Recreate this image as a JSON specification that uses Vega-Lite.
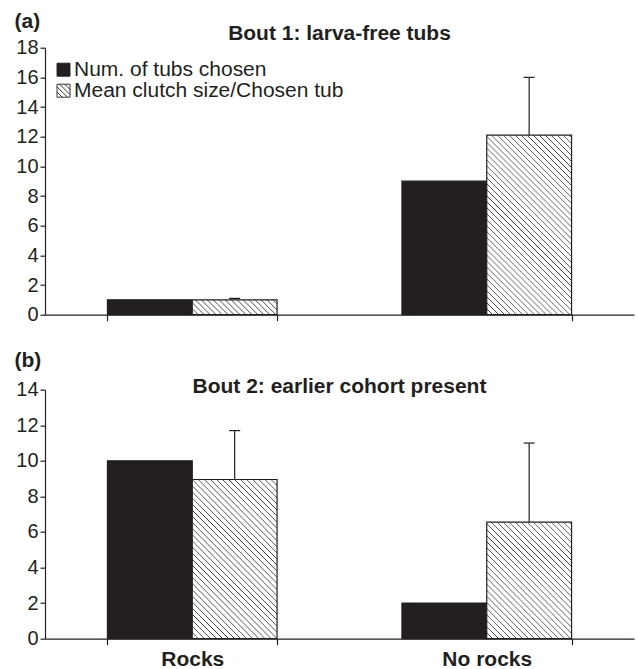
{
"$schema": "https://vega.github.io/schema/vega-lite/v6.json",
"padding": {"left": 14, "top": 9.7, "right": 4, "bottom": 0},
"config": {"view": {"stroke": null}, "font": "Liberation Sans",
  "axis": {"domainColor": "#231f20", "tickColor": "#231f20", "labelColor": "#231f20", "titleColor": "#231f20", "grid": false, "domainWidth": 1.2, "tickWidth": 1.2, "labelFont": "Liberation Sans", "titleFont": "Liberation Sans", "labelOverlap": false},
  "title": {"color": "#231f20", "font": "Liberation Sans"}},
"spacing": 25,
"datasets": {
  "bout1": [
    {"cat": "Rocks", "series": "Num. of tubs chosen", "value": 1},
    {"cat": "Rocks", "series": "Mean clutch size/Chosen tub", "value": 1, "upper": 1.1},
    {"cat": "No rocks", "series": "Num. of tubs chosen", "value": 9},
    {"cat": "No rocks", "series": "Mean clutch size/Chosen tub", "value": 12.1, "upper": 16}
  ],
  "bout2": [
    {"cat": "Rocks", "series": "Num. of tubs chosen", "value": 10},
    {"cat": "Rocks", "series": "Mean clutch size/Chosen tub", "value": 8.95, "upper": 11.7},
    {"cat": "No rocks", "series": "Num. of tubs chosen", "value": 2},
    {"cat": "No rocks", "series": "Mean clutch size/Chosen tub", "value": 6.55, "upper": 11}
  ]
},
"vconcat": [
{
  "width": 589, "height": 267,
  "data": {"name": "bout1"},
  "title": {"text": "Bout 1: larva-free tubs", "anchor": "middle", "frame": "group", "fontSize": 21, "fontWeight": "bold", "baseline": "alphabetic", "offset": -51},
  "encoding": {
    "x": {"field": "cat", "type": "nominal", "sort": ["Rocks", "No rocks"], "scale": {"domain": ["Rocks", "No rocks"], "paddingInner": 0.424, "paddingOuter": 0.212},
          "axis": {"title": null, "labels": false, "tickBand": "extent", "tickSize": 6}},
    "xOffset": {"field": "series", "type": "nominal", "scale": {"domain": ["Num. of tubs chosen", "Mean clutch size/Chosen tub"], "paddingInner": 0, "paddingOuter": 0}}
  },
  "layer": [
    {
      "mark": {"type": "bar", "stroke": "#231f20", "strokeWidth": 1.2},
      "encoding": {
        "y": {"field": "value", "type": "quantitative", "title": "(a)", "scale": {"domain": [0, 18]},
              "axis": {"values": [0, 2, 4, 6, 8, 10, 12, 14, 16, 18], "labelOverlap": false, "tickSize": 5, "labelFontSize": 20, "labelPadding": 2, "title": "(a)", "titleAngle": 0, "titleX": -31, "titleY": -37.5, "titleAlign": "left", "titleBaseline": "top", "titleFontSize": 21, "titleFontWeight": "bold"}},
        "fill": {"field": "series", "type": "nominal",
          "scale": {"domain": ["Num. of tubs chosen", "Mean clutch size/Chosen tub"], "range": ["#231f20", "#ffffff"]},
          "legend": {"orient": "none", "legendX": 8, "legendY": 11.5, "title": null, "symbolType": "M-1,-1H1V1H-1Z M0.2,-1L1,-0.2 M-0.6,-1L1,0.6 M-1,-0.6L0.6,1 M-1,0.2L-0.2,1", "symbolSize": 169, "symbolStrokeColor": "#231f20", "symbolStrokeWidth": 1, "labelFontSize": 21, "labelColor": "#231f20", "labelFont": "Liberation Sans", "labelOffset": 0, "rowPadding": -3, "padding": 0, "labelLimit": 400,
            "encode": {"symbols": {"update": {"stroke": {"value": "#231f20"}, "strokeWidth": {"value": 0.9}, "opacity": {"value": 1}}}}},
          "condition": [
            {"test": "datum.series === 'Mean clutch size/Chosen tub' && datum.cat === 'Rocks'", "value": {"gradient": "linear", "x1": 0, "y1": 1, "x2": 1.14, "y2": 0.8006, "stops": [
              {"offset": 0.051, "color": "#fff"}, {"offset": 0.06, "color": "#333"}, {"offset": 0.069, "color": "#fff"},
              {"offset": 0.111, "color": "#fff"}, {"offset": 0.12, "color": "#333"}, {"offset": 0.129, "color": "#fff"},
              {"offset": 0.171, "color": "#fff"}, {"offset": 0.18, "color": "#333"}, {"offset": 0.189, "color": "#fff"},
              {"offset": 0.231, "color": "#fff"}, {"offset": 0.24, "color": "#333"}, {"offset": 0.249, "color": "#fff"},
              {"offset": 0.291, "color": "#fff"}, {"offset": 0.3, "color": "#333"}, {"offset": 0.309, "color": "#fff"},
              {"offset": 0.351, "color": "#fff"}, {"offset": 0.36, "color": "#333"}, {"offset": 0.369, "color": "#fff"},
              {"offset": 0.411, "color": "#fff"}, {"offset": 0.42, "color": "#333"}, {"offset": 0.429, "color": "#fff"},
              {"offset": 0.471, "color": "#fff"}, {"offset": 0.48, "color": "#333"}, {"offset": 0.489, "color": "#fff"},
              {"offset": 0.531, "color": "#fff"}, {"offset": 0.54, "color": "#333"}, {"offset": 0.549, "color": "#fff"},
              {"offset": 0.591, "color": "#fff"}, {"offset": 0.6, "color": "#333"}, {"offset": 0.609, "color": "#fff"},
              {"offset": 0.651, "color": "#fff"}, {"offset": 0.66, "color": "#333"}, {"offset": 0.669, "color": "#fff"},
              {"offset": 0.711, "color": "#fff"}, {"offset": 0.72, "color": "#333"}, {"offset": 0.729, "color": "#fff"},
              {"offset": 0.771, "color": "#fff"}, {"offset": 0.78, "color": "#333"}, {"offset": 0.789, "color": "#fff"},
              {"offset": 0.831, "color": "#fff"}, {"offset": 0.84, "color": "#333"}, {"offset": 0.849, "color": "#fff"},
              {"offset": 0.891, "color": "#fff"}, {"offset": 0.9, "color": "#333"}, {"offset": 0.909, "color": "#fff"},
              {"offset": 0.951, "color": "#fff"}, {"offset": 0.96, "color": "#333"}, {"offset": 0.969, "color": "#fff"}]}},
            {"test": "datum.series === 'Mean clutch size/Chosen tub' && datum.cat === 'No rocks'", "value": {"gradient": "linear", "x1": 0, "y1": 1, "x2": 0.5687, "y2": -0.2038, "stops": [
              {"offset": 0.0195, "color": "#fff"}, {"offset": 0.0225, "color": "#333"}, {"offset": 0.0255, "color": "#fff"},
              {"offset": 0.042, "color": "#fff"}, {"offset": 0.045, "color": "#333"}, {"offset": 0.048, "color": "#fff"},
              {"offset": 0.0645, "color": "#fff"}, {"offset": 0.0675, "color": "#333"}, {"offset": 0.0705, "color": "#fff"},
              {"offset": 0.087, "color": "#fff"}, {"offset": 0.09, "color": "#333"}, {"offset": 0.093, "color": "#fff"},
              {"offset": 0.1095, "color": "#fff"}, {"offset": 0.1125, "color": "#333"}, {"offset": 0.1155, "color": "#fff"},
              {"offset": 0.132, "color": "#fff"}, {"offset": 0.135, "color": "#333"}, {"offset": 0.138, "color": "#fff"},
              {"offset": 0.1545, "color": "#fff"}, {"offset": 0.1575, "color": "#333"}, {"offset": 0.1605, "color": "#fff"},
              {"offset": 0.177, "color": "#fff"}, {"offset": 0.18, "color": "#333"}, {"offset": 0.183, "color": "#fff"},
              {"offset": 0.1995, "color": "#fff"}, {"offset": 0.2025, "color": "#333"}, {"offset": 0.2055, "color": "#fff"},
              {"offset": 0.222, "color": "#fff"}, {"offset": 0.225, "color": "#333"}, {"offset": 0.228, "color": "#fff"},
              {"offset": 0.2445, "color": "#fff"}, {"offset": 0.2475, "color": "#333"}, {"offset": 0.2505, "color": "#fff"},
              {"offset": 0.267, "color": "#fff"}, {"offset": 0.27, "color": "#333"}, {"offset": 0.273, "color": "#fff"},
              {"offset": 0.2895, "color": "#fff"}, {"offset": 0.2925, "color": "#333"}, {"offset": 0.2955, "color": "#fff"},
              {"offset": 0.312, "color": "#fff"}, {"offset": 0.315, "color": "#333"}, {"offset": 0.318, "color": "#fff"},
              {"offset": 0.3345, "color": "#fff"}, {"offset": 0.3375, "color": "#333"}, {"offset": 0.3405, "color": "#fff"},
              {"offset": 0.357, "color": "#fff"}, {"offset": 0.36, "color": "#333"}, {"offset": 0.363, "color": "#fff"},
              {"offset": 0.3795, "color": "#fff"}, {"offset": 0.3825, "color": "#333"}, {"offset": 0.3855, "color": "#fff"},
              {"offset": 0.402, "color": "#fff"}, {"offset": 0.405, "color": "#333"}, {"offset": 0.408, "color": "#fff"},
              {"offset": 0.4245, "color": "#fff"}, {"offset": 0.4275, "color": "#333"}, {"offset": 0.4305, "color": "#fff"},
              {"offset": 0.447, "color": "#fff"}, {"offset": 0.45, "color": "#333"}, {"offset": 0.453, "color": "#fff"},
              {"offset": 0.4695, "color": "#fff"}, {"offset": 0.4725, "color": "#333"}, {"offset": 0.4755, "color": "#fff"},
              {"offset": 0.492, "color": "#fff"}, {"offset": 0.495, "color": "#333"}, {"offset": 0.498, "color": "#fff"},
              {"offset": 0.5145, "color": "#fff"}, {"offset": 0.5175, "color": "#333"}, {"offset": 0.5205, "color": "#fff"},
              {"offset": 0.537, "color": "#fff"}, {"offset": 0.54, "color": "#333"}, {"offset": 0.543, "color": "#fff"},
              {"offset": 0.5595, "color": "#fff"}, {"offset": 0.5625, "color": "#333"}, {"offset": 0.5655, "color": "#fff"},
              {"offset": 0.582, "color": "#fff"}, {"offset": 0.585, "color": "#333"}, {"offset": 0.588, "color": "#fff"},
              {"offset": 0.6045, "color": "#fff"}, {"offset": 0.6075, "color": "#333"}, {"offset": 0.6105, "color": "#fff"},
              {"offset": 0.627, "color": "#fff"}, {"offset": 0.63, "color": "#333"}, {"offset": 0.633, "color": "#fff"},
              {"offset": 0.6495, "color": "#fff"}, {"offset": 0.6525, "color": "#333"}, {"offset": 0.6555, "color": "#fff"},
              {"offset": 0.672, "color": "#fff"}, {"offset": 0.675, "color": "#333"}, {"offset": 0.678, "color": "#fff"},
              {"offset": 0.6945, "color": "#fff"}, {"offset": 0.6975, "color": "#333"}, {"offset": 0.7005, "color": "#fff"},
              {"offset": 0.717, "color": "#fff"}, {"offset": 0.72, "color": "#333"}, {"offset": 0.723, "color": "#fff"},
              {"offset": 0.7395, "color": "#fff"}, {"offset": 0.7425, "color": "#333"}, {"offset": 0.7455, "color": "#fff"},
              {"offset": 0.762, "color": "#fff"}, {"offset": 0.765, "color": "#333"}, {"offset": 0.768, "color": "#fff"},
              {"offset": 0.7845, "color": "#fff"}, {"offset": 0.7875, "color": "#333"}, {"offset": 0.7905, "color": "#fff"},
              {"offset": 0.807, "color": "#fff"}, {"offset": 0.81, "color": "#333"}, {"offset": 0.813, "color": "#fff"},
              {"offset": 0.8295, "color": "#fff"}, {"offset": 0.8325, "color": "#333"}, {"offset": 0.8355, "color": "#fff"},
              {"offset": 0.852, "color": "#fff"}, {"offset": 0.855, "color": "#333"}, {"offset": 0.858, "color": "#fff"},
              {"offset": 0.8745, "color": "#fff"}, {"offset": 0.8775, "color": "#333"}, {"offset": 0.8805, "color": "#fff"},
              {"offset": 0.897, "color": "#fff"}, {"offset": 0.9, "color": "#333"}, {"offset": 0.903, "color": "#fff"},
              {"offset": 0.9195, "color": "#fff"}, {"offset": 0.9225, "color": "#333"}, {"offset": 0.9255, "color": "#fff"},
              {"offset": 0.942, "color": "#fff"}, {"offset": 0.945, "color": "#333"}, {"offset": 0.948, "color": "#fff"},
              {"offset": 0.9645, "color": "#fff"}, {"offset": 0.9675, "color": "#333"}, {"offset": 0.9705, "color": "#fff"},
              {"offset": 0.987, "color": "#fff"}, {"offset": 0.99, "color": "#333"}, {"offset": 0.993, "color": "#fff"}]}}
          ]
        }
      }
    },
    {
      "transform": [{"filter": "isValid(datum.upper)"}],
      "mark": {"type": "rule", "stroke": "#231f20", "strokeWidth": 1.2},
      "encoding": {
        "y": {"field": "value", "type": "quantitative", "title": "(a)",
              "axis": {"values": [0, 2, 4, 6, 8, 10, 12, 14, 16, 18], "labelOverlap": false, "tickSize": 5, "labelFontSize": 20, "labelPadding": 2, "title": "(a)", "titleAngle": 0, "titleX": -31, "titleY": -37.5, "titleAlign": "left", "titleBaseline": "top", "titleFontSize": 21, "titleFontWeight": "bold"}},
        "y2": {"field": "upper"}
      }
    },
    {
      "transform": [{"filter": "isValid(datum.upper)"}],
      "mark": {"type": "tick", "orient": "horizontal", "size": 11, "thickness": 1.2, "color": "#231f20", "opacity": 1},
      "encoding": {
        "y": {"field": "upper", "type": "quantitative", "title": "(a)",
              "axis": {"values": [0, 2, 4, 6, 8, 10, 12, 14, 16, 18], "labelOverlap": false, "tickSize": 5, "labelFontSize": 20, "labelPadding": 2, "title": "(a)", "titleAngle": 0, "titleX": -31, "titleY": -37.5, "titleAlign": "left", "titleBaseline": "top", "titleFontSize": 21, "titleFontWeight": "bold"}}
      }
    }
  ]
},
{
  "width": 589, "height": 249,
  "data": {"name": "bout2"},
  "title": {"text": "Bout 2: earlier cohort present", "anchor": "middle", "frame": "group", "fontSize": 21, "fontWeight": "bold", "baseline": "alphabetic", "offset": -64.5},
  "encoding": {
    "x": {"field": "cat", "type": "nominal", "sort": ["Rocks", "No rocks"], "scale": {"domain": ["Rocks", "No rocks"], "paddingInner": 0.424, "paddingOuter": 0.212},
          "axis": {"title": null, "labelAngle": 0, "labelFontSize": 21, "labelFontWeight": "bold", "labelPadding": 4, "tickBand": "extent", "tickSize": 6}},
    "xOffset": {"field": "series", "type": "nominal", "scale": {"domain": ["Num. of tubs chosen", "Mean clutch size/Chosen tub"], "paddingInner": 0, "paddingOuter": 0}}
  },
  "layer": [
    {
      "mark": {"type": "bar", "stroke": "#231f20", "strokeWidth": 1.2},
      "encoding": {
        "y": {"field": "value", "type": "quantitative", "title": "(b)", "scale": {"domain": [0, 14]},
              "axis": {"values": [0, 2, 4, 6, 8, 10, 12, 14], "labelOverlap": false, "tickSize": 5, "labelFontSize": 20, "labelPadding": 2, "title": "(b)", "titleAngle": 0, "titleX": -31, "titleY": -40, "titleAlign": "left", "titleBaseline": "top", "titleFontSize": 21, "titleFontWeight": "bold"}},
        "fill": {"value": "#231f20",
          "condition": [
            {"test": "datum.series === 'Mean clutch size/Chosen tub' && datum.cat === 'Rocks'", "value": {"gradient": "linear", "x1": 0, "y1": 1, "x2": 0.6407, "y2": -0.193, "stops": [
              {"offset": 0.0215, "color": "#fff"}, {"offset": 0.025, "color": "#333"}, {"offset": 0.0285, "color": "#fff"},
              {"offset": 0.0465, "color": "#fff"}, {"offset": 0.05, "color": "#333"}, {"offset": 0.0535, "color": "#fff"},
              {"offset": 0.0715, "color": "#fff"}, {"offset": 0.075, "color": "#333"}, {"offset": 0.0785, "color": "#fff"},
              {"offset": 0.0965, "color": "#fff"}, {"offset": 0.1, "color": "#333"}, {"offset": 0.1035, "color": "#fff"},
              {"offset": 0.1215, "color": "#fff"}, {"offset": 0.125, "color": "#333"}, {"offset": 0.1285, "color": "#fff"},
              {"offset": 0.1465, "color": "#fff"}, {"offset": 0.15, "color": "#333"}, {"offset": 0.1535, "color": "#fff"},
              {"offset": 0.1715, "color": "#fff"}, {"offset": 0.175, "color": "#333"}, {"offset": 0.1785, "color": "#fff"},
              {"offset": 0.1965, "color": "#fff"}, {"offset": 0.2, "color": "#333"}, {"offset": 0.2035, "color": "#fff"},
              {"offset": 0.2215, "color": "#fff"}, {"offset": 0.225, "color": "#333"}, {"offset": 0.2285, "color": "#fff"},
              {"offset": 0.2465, "color": "#fff"}, {"offset": 0.25, "color": "#333"}, {"offset": 0.2535, "color": "#fff"},
              {"offset": 0.2715, "color": "#fff"}, {"offset": 0.275, "color": "#333"}, {"offset": 0.2785, "color": "#fff"},
              {"offset": 0.2965, "color": "#fff"}, {"offset": 0.3, "color": "#333"}, {"offset": 0.3035, "color": "#fff"},
              {"offset": 0.3215, "color": "#fff"}, {"offset": 0.325, "color": "#333"}, {"offset": 0.3285, "color": "#fff"},
              {"offset": 0.3465, "color": "#fff"}, {"offset": 0.35, "color": "#333"}, {"offset": 0.3535, "color": "#fff"},
              {"offset": 0.3715, "color": "#fff"}, {"offset": 0.375, "color": "#333"}, {"offset": 0.3785, "color": "#fff"},
              {"offset": 0.3965, "color": "#fff"}, {"offset": 0.4, "color": "#333"}, {"offset": 0.4035, "color": "#fff"},
              {"offset": 0.4215, "color": "#fff"}, {"offset": 0.425, "color": "#333"}, {"offset": 0.4285, "color": "#fff"},
              {"offset": 0.4465, "color": "#fff"}, {"offset": 0.45, "color": "#333"}, {"offset": 0.4535, "color": "#fff"},
              {"offset": 0.4715, "color": "#fff"}, {"offset": 0.475, "color": "#333"}, {"offset": 0.4785, "color": "#fff"},
              {"offset": 0.4965, "color": "#fff"}, {"offset": 0.5, "color": "#333"}, {"offset": 0.5035, "color": "#fff"},
              {"offset": 0.5215, "color": "#fff"}, {"offset": 0.525, "color": "#333"}, {"offset": 0.5285, "color": "#fff"},
              {"offset": 0.5465, "color": "#fff"}, {"offset": 0.55, "color": "#333"}, {"offset": 0.5535, "color": "#fff"},
              {"offset": 0.5715, "color": "#fff"}, {"offset": 0.575, "color": "#333"}, {"offset": 0.5785, "color": "#fff"},
              {"offset": 0.5965, "color": "#fff"}, {"offset": 0.6, "color": "#333"}, {"offset": 0.6035, "color": "#fff"},
              {"offset": 0.6215, "color": "#fff"}, {"offset": 0.625, "color": "#333"}, {"offset": 0.6285, "color": "#fff"},
              {"offset": 0.6465, "color": "#fff"}, {"offset": 0.65, "color": "#333"}, {"offset": 0.6535, "color": "#fff"},
              {"offset": 0.6715, "color": "#fff"}, {"offset": 0.675, "color": "#333"}, {"offset": 0.6785, "color": "#fff"},
              {"offset": 0.6965, "color": "#fff"}, {"offset": 0.7, "color": "#333"}, {"offset": 0.7035, "color": "#fff"},
              {"offset": 0.7215, "color": "#fff"}, {"offset": 0.725, "color": "#333"}, {"offset": 0.7285, "color": "#fff"},
              {"offset": 0.7465, "color": "#fff"}, {"offset": 0.75, "color": "#333"}, {"offset": 0.7535, "color": "#fff"},
              {"offset": 0.7715, "color": "#fff"}, {"offset": 0.775, "color": "#333"}, {"offset": 0.7785, "color": "#fff"},
              {"offset": 0.7965, "color": "#fff"}, {"offset": 0.8, "color": "#333"}, {"offset": 0.8035, "color": "#fff"},
              {"offset": 0.8215, "color": "#fff"}, {"offset": 0.825, "color": "#333"}, {"offset": 0.8285, "color": "#fff"},
              {"offset": 0.8465, "color": "#fff"}, {"offset": 0.85, "color": "#333"}, {"offset": 0.8535, "color": "#fff"},
              {"offset": 0.8715, "color": "#fff"}, {"offset": 0.875, "color": "#333"}, {"offset": 0.8785, "color": "#fff"},
              {"offset": 0.8965, "color": "#fff"}, {"offset": 0.9, "color": "#333"}, {"offset": 0.9035, "color": "#fff"},
              {"offset": 0.9215, "color": "#fff"}, {"offset": 0.925, "color": "#333"}, {"offset": 0.9285, "color": "#fff"},
              {"offset": 0.9465, "color": "#fff"}, {"offset": 0.95, "color": "#333"}, {"offset": 0.9535, "color": "#fff"},
              {"offset": 0.9715, "color": "#fff"}, {"offset": 0.975, "color": "#333"}, {"offset": 0.9785, "color": "#fff"}]}},
            {"test": "datum.series === 'Mean clutch size/Chosen tub' && datum.cat === 'No rocks'", "value": {"gradient": "linear", "x1": 0, "y1": 1, "x2": 0.8268, "y2": -0.1271, "stops": [
              {"offset": 0.026, "color": "#fff"}, {"offset": 0.03, "color": "#333"}, {"offset": 0.034, "color": "#fff"},
              {"offset": 0.056, "color": "#fff"}, {"offset": 0.06, "color": "#333"}, {"offset": 0.064, "color": "#fff"},
              {"offset": 0.086, "color": "#fff"}, {"offset": 0.09, "color": "#333"}, {"offset": 0.094, "color": "#fff"},
              {"offset": 0.116, "color": "#fff"}, {"offset": 0.12, "color": "#333"}, {"offset": 0.124, "color": "#fff"},
              {"offset": 0.146, "color": "#fff"}, {"offset": 0.15, "color": "#333"}, {"offset": 0.154, "color": "#fff"},
              {"offset": 0.176, "color": "#fff"}, {"offset": 0.18, "color": "#333"}, {"offset": 0.184, "color": "#fff"},
              {"offset": 0.206, "color": "#fff"}, {"offset": 0.21, "color": "#333"}, {"offset": 0.214, "color": "#fff"},
              {"offset": 0.236, "color": "#fff"}, {"offset": 0.24, "color": "#333"}, {"offset": 0.244, "color": "#fff"},
              {"offset": 0.266, "color": "#fff"}, {"offset": 0.27, "color": "#333"}, {"offset": 0.274, "color": "#fff"},
              {"offset": 0.296, "color": "#fff"}, {"offset": 0.3, "color": "#333"}, {"offset": 0.304, "color": "#fff"},
              {"offset": 0.326, "color": "#fff"}, {"offset": 0.33, "color": "#333"}, {"offset": 0.334, "color": "#fff"},
              {"offset": 0.356, "color": "#fff"}, {"offset": 0.36, "color": "#333"}, {"offset": 0.364, "color": "#fff"},
              {"offset": 0.386, "color": "#fff"}, {"offset": 0.39, "color": "#333"}, {"offset": 0.394, "color": "#fff"},
              {"offset": 0.416, "color": "#fff"}, {"offset": 0.42, "color": "#333"}, {"offset": 0.424, "color": "#fff"},
              {"offset": 0.446, "color": "#fff"}, {"offset": 0.45, "color": "#333"}, {"offset": 0.454, "color": "#fff"},
              {"offset": 0.476, "color": "#fff"}, {"offset": 0.48, "color": "#333"}, {"offset": 0.484, "color": "#fff"},
              {"offset": 0.506, "color": "#fff"}, {"offset": 0.51, "color": "#333"}, {"offset": 0.514, "color": "#fff"},
              {"offset": 0.536, "color": "#fff"}, {"offset": 0.54, "color": "#333"}, {"offset": 0.544, "color": "#fff"},
              {"offset": 0.566, "color": "#fff"}, {"offset": 0.57, "color": "#333"}, {"offset": 0.574, "color": "#fff"},
              {"offset": 0.596, "color": "#fff"}, {"offset": 0.6, "color": "#333"}, {"offset": 0.604, "color": "#fff"},
              {"offset": 0.626, "color": "#fff"}, {"offset": 0.63, "color": "#333"}, {"offset": 0.634, "color": "#fff"},
              {"offset": 0.656, "color": "#fff"}, {"offset": 0.66, "color": "#333"}, {"offset": 0.664, "color": "#fff"},
              {"offset": 0.686, "color": "#fff"}, {"offset": 0.69, "color": "#333"}, {"offset": 0.694, "color": "#fff"},
              {"offset": 0.716, "color": "#fff"}, {"offset": 0.72, "color": "#333"}, {"offset": 0.724, "color": "#fff"},
              {"offset": 0.746, "color": "#fff"}, {"offset": 0.75, "color": "#333"}, {"offset": 0.754, "color": "#fff"},
              {"offset": 0.776, "color": "#fff"}, {"offset": 0.78, "color": "#333"}, {"offset": 0.784, "color": "#fff"},
              {"offset": 0.806, "color": "#fff"}, {"offset": 0.81, "color": "#333"}, {"offset": 0.814, "color": "#fff"},
              {"offset": 0.836, "color": "#fff"}, {"offset": 0.84, "color": "#333"}, {"offset": 0.844, "color": "#fff"},
              {"offset": 0.866, "color": "#fff"}, {"offset": 0.87, "color": "#333"}, {"offset": 0.874, "color": "#fff"},
              {"offset": 0.896, "color": "#fff"}, {"offset": 0.9, "color": "#333"}, {"offset": 0.904, "color": "#fff"},
              {"offset": 0.926, "color": "#fff"}, {"offset": 0.93, "color": "#333"}, {"offset": 0.934, "color": "#fff"},
              {"offset": 0.956, "color": "#fff"}, {"offset": 0.96, "color": "#333"}, {"offset": 0.964, "color": "#fff"},
              {"offset": 0.986, "color": "#fff"}, {"offset": 0.99, "color": "#333"}, {"offset": 0.994, "color": "#fff"}]}}
          ]
        }
      }
    },
    {
      "transform": [{"filter": "isValid(datum.upper)"}],
      "mark": {"type": "rule", "stroke": "#231f20", "strokeWidth": 1.2},
      "encoding": {
        "y": {"field": "value", "type": "quantitative", "title": "(b)",
              "axis": {"values": [0, 2, 4, 6, 8, 10, 12, 14], "labelOverlap": false, "tickSize": 5, "labelFontSize": 20, "labelPadding": 2, "title": "(b)", "titleAngle": 0, "titleX": -31, "titleY": -40, "titleAlign": "left", "titleBaseline": "top", "titleFontSize": 21, "titleFontWeight": "bold"}},
        "y2": {"field": "upper"}
      }
    },
    {
      "transform": [{"filter": "isValid(datum.upper)"}],
      "mark": {"type": "tick", "orient": "horizontal", "size": 11, "thickness": 1.2, "color": "#231f20", "opacity": 1},
      "encoding": {
        "y": {"field": "upper", "type": "quantitative", "title": "(b)",
              "axis": {"values": [0, 2, 4, 6, 8, 10, 12, 14], "labelOverlap": false, "tickSize": 5, "labelFontSize": 20, "labelPadding": 2, "title": "(b)", "titleAngle": 0, "titleX": -31, "titleY": -40, "titleAlign": "left", "titleBaseline": "top", "titleFontSize": 21, "titleFontWeight": "bold"}}
      }
    }
  ]
}
]
}
